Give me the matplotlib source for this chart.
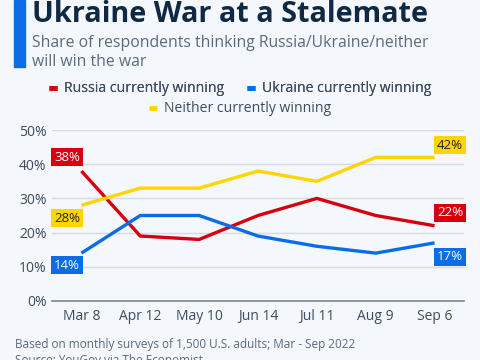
import matplotlib
matplotlib.use("Agg")
import matplotlib.pyplot as plt
from matplotlib.lines import Line2D

# --- Datos ---
dates = ["Mar 8", "Apr 12", "May 10", "Jun 14", "Jul 11", "Aug 9", "Sep 6"]
russia = [38, 19, 18, 25, 30, 25, 22]
ukraine = [14, 25, 25, 19, 16, 14, 17]
neither = [28, 33, 33, 38, 35, 42, 42]
y_ticks = [0, 10, 20, 30, 40, 50]

RED = "#d6000f"
BLUE = "#0a6de6"
YELLOW = "#ffd500"
BG = "#f4f7fb"
NAVY = "#0f2843"
GREY_TXT = "#5b6b7e"
TICK_TXT = "#3d4c5e"

plt.rcParams["font.family"] = ["Open Sans", "DejaVu Sans"]

fig = plt.figure(figsize=(4.8, 3.6), dpi=100, facecolor=BG)
ax = fig.add_axes([52 / 480, 1 - 301 / 360, 412 / 480, 171 / 360], facecolor=BG)

x = list(range(len(dates)))
series = [(russia, RED, "Russia currently winning"),
          (ukraine, BLUE, "Ukraine currently winning"),
          (neither, YELLOW, "Neither currently winning")]
for vals, col, lab in series:
    ax.plot(x, vals, color=col, lw=2.4, solid_capstyle="butt", zorder=3)

ax.set_xlim(-0.5, len(dates) - 0.5)
ax.set_ylim(0, 50)
ax.set_yticks(y_ticks)
ax.set_yticklabels([f"{v}%" for v in y_ticks])
ax.set_xticks(x)
ax.set_xticklabels(dates)
ax.tick_params(axis="both", length=0, labelsize=10, colors=TICK_TXT)
ax.tick_params(axis="x", pad=6)
ax.tick_params(axis="y", pad=4)
ax.grid(axis="y", color="#d5dbe3", lw=1)
ax.set_axisbelow(True)
for s in ["top", "right", "left"]:
    ax.spines[s].set_visible(False)
ax.spines["bottom"].set_color("#7d8896")
ax.spines["bottom"].set_linewidth(1.2)

# Etiquetas de valor en los extremos
def tag(xv, yv, dy, col, txt_col, ha):
    dx = 2 if ha == "left" else -1
    ax.annotate(f"{yv}%", xy=(xv, yv), xytext=(dx, dy), textcoords="offset pixels",
                ha=ha, va="center", fontsize=9.5, color=txt_col, zorder=5,
                bbox=dict(boxstyle="square,pad=0.2", fc=col, ec="none"))

first, last = 0, len(dates) - 1
tag(-0.5, russia[first], 14, RED, "white", "left")
tag(-0.5, neither[first], -13, YELLOW, "#222222", "left")
tag(-0.5, ukraine[first], -12, BLUE, "white", "left")
tag(len(dates) - 0.5, neither[last], 12, YELLOW, "#222222", "right")
tag(len(dates) - 0.5, russia[last], 13, RED, "white", "right")
tag(len(dates) - 0.5, ukraine[last], -14, BLUE, "white", "right")

# Título y subtítulo
fig.patches.append(plt.Rectangle((14 / 480, 1 - 67 / 360), 11 / 480, 67 / 360,
                                 transform=fig.transFigure, color="#0a6de6"))
fig.text(32 / 480, 1 - 22 / 360, "Ukraine War at a Stalemate", fontsize=20.8,
         fontweight="bold", color=NAVY, va="baseline")
fig.text(32 / 480, 1 - 47 / 360, "Share of respondents thinking Russia/Ukraine/neither",
         fontsize=11.3, color=GREY_TXT, va="baseline")
fig.text(32 / 480, 1 - 66 / 360, "will win the war", fontsize=11.3, color=GREY_TXT,
         va="baseline")

# Leyenda
handles = [Line2D([], [], color=c, lw=3.5, solid_capstyle="butt") for _, c, _ in series]
labels = [lab for _, _, lab in series]
leg1 = fig.legend(handles[:2], labels[:2], loc="center", bbox_to_anchor=(0.5, 1 - 89 / 360),
                  ncol=2, frameon=False, fontsize=10.1, handlelength=0.6, handletextpad=0.5,
                  columnspacing=1.6, labelcolor=TICK_TXT)
leg2 = fig.legend(handles[2:], labels[2:], loc="center", bbox_to_anchor=(0.5, 1 - 109 / 360),
                  frameon=False, fontsize=10.1, handlelength=0.6, handletextpad=0.5,
                  labelcolor=TICK_TXT)
fig.add_artist(leg1)

# Pie (la segunda línea queda cortada en el original)
fig.text(15 / 480, 1 - 348 / 360, "Based on monthly surveys of 1,500 U.S. adults; Mar - Sep 2022",
         fontsize=8.5, color=GREY_TXT, va="baseline")
fig.text(15 / 480, 1 - 364 / 360, "Source: YouGov via The Economist",
         fontsize=8.5, color=GREY_TXT, va="baseline")

fig.savefig("out.png", dpi=100, facecolor=BG)
